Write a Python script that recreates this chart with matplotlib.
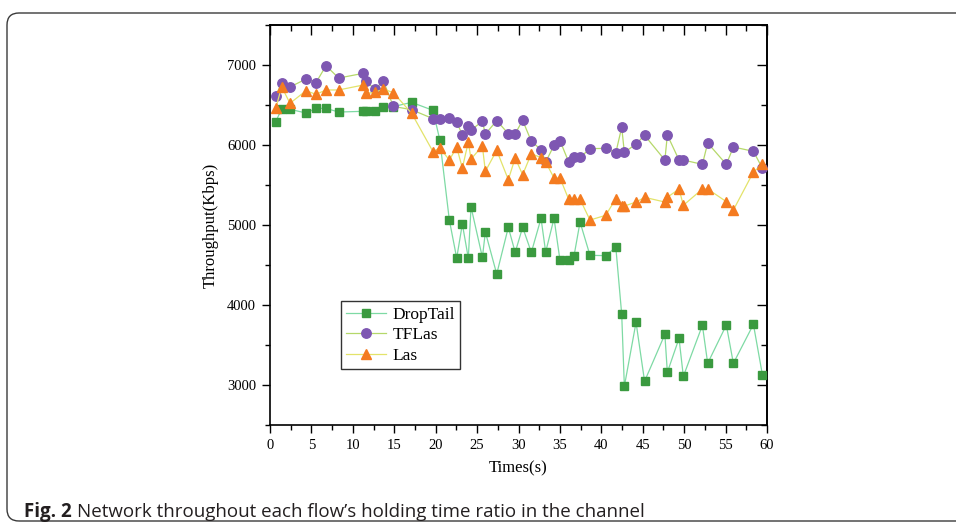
import matplotlib
matplotlib.use("Agg")
import matplotlib.pyplot as plt
from matplotlib.patches import FancyBboxPatch
from matplotlib.transforms import IdentityTransform
from matplotlib.ticker import MultipleLocator

# ---- data ----
times = [0.69, 1.41, 2.41, 4.35, 5.55, 6.76, 8.29, 11.27, 11.6, 12.68,
         13.69, 14.89, 17.1, 19.68, 20.5, 21.65, 22.54, 23.22, 23.94, 24.27,
         25.64, 26.0, 27.37, 28.77, 29.6, 30.5, 31.55, 32.72, 33.28, 34.29,
         35.01, 36.06, 36.7, 37.43, 38.63, 40.53, 41.75, 42.46, 42.78, 44.19,
         45.22, 47.67, 47.97, 49.38, 49.9, 52.2, 52.84, 55.09, 55.94, 58.36, 59.45]

droptail = [6292, 6450, 6446, 6400, 6458, 6458, 6412, 6421, 6421, 6421,
            6471, 6480, 6533, 6433, 6062, 5062, 4587, 5012, 4587, 5225,
            4596, 4912, 4387, 4971, 4658, 4971, 4658, 5083, 4662, 5083,
            4558, 4558, 4612, 5037, 4621, 4617, 4721, 3883, 2983, 3783,
            3046, 3633, 3158, 3583, 3108, 3746, 3271, 3750, 3271, 3758, 3125]

tflas = [6612, 6779, 6725, 6825, 6779, 6991, 6837, 6896, 6796, 6696,
         6800, 6483, 6441, 6329, 6329, 6333, 6283, 6129, 6237, 6187,
         6296, 6137, 6304, 6142, 6142, 6308, 6046, 5942, 5787, 5996,
         6054, 5787, 5846, 5846, 5954, 5958, 5904, 6221, 5908, 6012,
         6121, 5812, 6125, 5812, 5812, 5758, 6025, 5758, 5975, 5921, 5708]

las = [6458, 6729, 6521, 6679, 6633, 6688, 6688, 6750, 6646, 6658,
       6700, 6654, 6396, 5917, 5965, 5812, 5971, 5712, 6037, 5825,
       5987, 5671, 5933, 5567, 5837, 5629, 5891, 5842, 5787, 5587,
       5587, 5321, 5321, 5321, 5062, 5121, 5329, 5237, 5237, 5287,
       5346, 5287, 5346, 5450, 5246, 5450, 5450, 5292, 5187, 5662, 5762]

series_names = ["DropTail", "TFLas", "Las"]
x_ticks = list(range(0, 61, 5))
y_ticks = [3000, 4000, 5000, 6000, 7000]

serif = "Liberation Serif"

fig = plt.figure(figsize=(9.56, 5.26), dpi=100)
fig.patch.set_facecolor("white")

# outer rounded frame (pixel coordinates)
frame = FancyBboxPatch((7, 5), 1000, 508,
                       boxstyle="round,pad=0,rounding_size=12",
                       transform=IdentityTransform(), fill=False,
                       edgecolor="#3a3a3a", linewidth=1.0)
fig.patches.append(frame)

ax = fig.add_axes([270 / 956, 101 / 526, 497 / 956, 400 / 526])

ax.plot(times, droptail, color="#7edaa4", lw=0.9, marker="s", ms=5.4,
        mfc="#3a9a3f", mec="#3a9a3f", label=series_names[0], zorder=3)
ax.plot(times, tflas, color="#b5d86a", lw=0.9, marker="o", ms=6.8,
        mfc="#7e57b2", mec="#7e57b2", label=series_names[1], zorder=4)
ax.plot(times, las, color="#e3e36a", lw=0.9, marker="^", ms=7.4,
        mfc="#f47b20", mec="#f47b20", label=series_names[2], zorder=5)

ax.set_xlim(0, 60)
ax.set_ylim(2500, 7500)
ax.set_xticks(x_ticks)
ax.set_yticks(y_ticks)
ax.xaxis.set_minor_locator(MultipleLocator(2.5))
ax.yaxis.set_minor_locator(MultipleLocator(500))
ax.tick_params(axis="both", which="major", direction="out", length=6,
               width=1.0, labelsize=10.5, pad=4)
ax.tick_params(axis="both", which="minor", direction="out", length=3.5, width=1.0)
for lab in ax.get_xticklabels() + ax.get_yticklabels():
    lab.set_fontfamily(serif)
for sp in ax.spines.values():
    sp.set_linewidth(1.2)

# mirrored ticks on top and right (pointing inward)
top = ax.secondary_xaxis("top")
top.set_xticks(x_ticks)
top.xaxis.set_minor_locator(MultipleLocator(2.5))
top.tick_params(which="major", direction="in", length=7, width=1.0, labeltop=False)
top.tick_params(which="minor", direction="in", length=4, width=1.0)
top.spines["top"].set_linewidth(1.2)
right = ax.secondary_yaxis("right")
right.set_yticks(y_ticks)
right.yaxis.set_minor_locator(MultipleLocator(500))
right.tick_params(which="major", direction="in", length=7, width=1.0, labelright=False)
right.tick_params(which="minor", direction="in", length=4, width=1.0)
right.spines["right"].set_linewidth(1.2)

ax.set_xlabel("Times(s)", fontfamily=serif, fontsize=12, labelpad=6)
ax.set_ylabel("Throughput(Kbps)", fontfamily=serif, fontsize=12, labelpad=6)

leg = ax.legend(loc="lower left", bbox_to_anchor=(0.142, 0.14),
                prop={"family": serif, "size": 12.5}, frameon=True,
                fancybox=False, edgecolor="black", handlelength=2.3,
                handletextpad=0.4, borderpad=0.3, labelspacing=0.25,
                borderaxespad=0)
leg.get_frame().set_linewidth(1.0)

# caption
fig.canvas.draw()
t1 = fig.text(24 / 956, 9 / 526, "Fig. 2", fontfamily="Open Sans",
              fontweight="bold", fontsize=13.5, color="#231f20")
fig.canvas.draw()
bb = t1.get_window_extent()
fig.text((bb.x1 + 5) / 956, 9 / 526,
         "Network throughout each flow\u2019s holding time ratio in the channel",
         fontfamily="Open Sans", fontsize=13.5, color="#231f20")

fig.savefig("out.png", dpi=100)
